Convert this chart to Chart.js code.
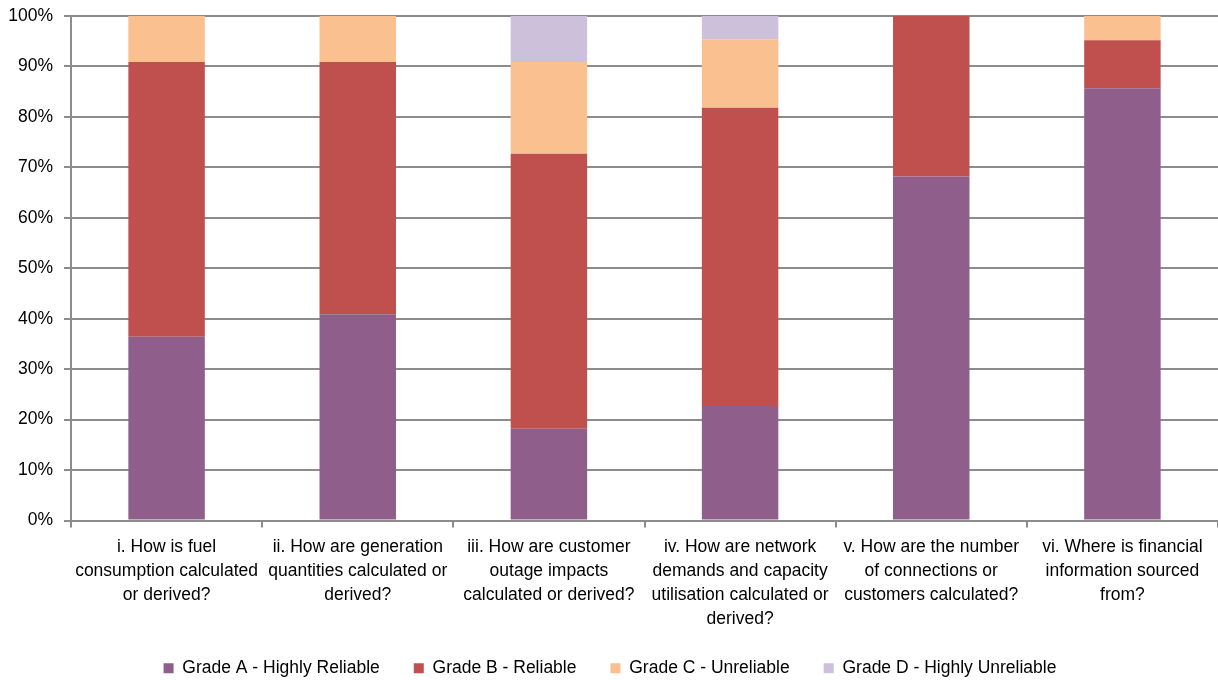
<!DOCTYPE html>
<html>
<head>
<meta charset="utf-8">
<script src="https://cdn.jsdelivr.net/npm/chart.js@4"></script>
<style>
  html, body { margin: 0; padding: 0; background: #fff; }
  #wrap { width: 1218px; height: 680px; }
</style>
</head>
<body>
<div id="wrap"><canvas id="chart" width="1218" height="680"></canvas></div>
<script>
// survey questions (x axis)
const categories = [
    ['i. How is fuel', 'consumption calculated', 'or derived?'],
    ['ii. How are generation', 'quantities calculated or', 'derived?'],
    ['iii. How are customer', 'outage impacts', 'calculated or derived?'],
    ['iv. How are network', 'demands and capacity', 'utilisation calculated or', 'derived?'],
    ['v. How are the number', 'of connections or', 'customers calculated?'],
    ['vi. Where is financial', 'information sourced', 'from?']
];

// share of responses, %
const gradeA = [36.4, 40.9, 18.2, 22.7, 68.2, 85.7];
const gradeB = [54.5, 50.0, 54.5, 59.1, 31.8, 9.5];
const gradeC = [9.1, 9.1, 18.2, 13.6, 0, 4.8];
const gradeD = [0, 0, 9.1, 4.6, 0, 0];

const yTicks = [0, 10, 20, 30, 40, 50, 60, 70, 80, 90, 100];

const fam = 'Liberation Sans, Arial, sans-serif';

// x labels are clipped to the axis box, so let them run a bit lower
const unclipX = {
    id: 'unclipX',
    afterLayout(chart) { chart.scales.x.bottom += 20; }
};

new Chart(document.getElementById('chart'), {
    type: 'bar',
    data: {
        labels: categories,
        datasets: [
            { label: 'Grade A - Highly Reliable', data: gradeA, backgroundColor: '#8F5E8B', stack: 's' },
            { label: 'Grade B - Reliable', data: gradeB, backgroundColor: '#C0504D', stack: 's' },
            { label: 'Grade C - Unreliable', data: gradeC, backgroundColor: '#FAC090', stack: 's' },
            { label: 'Grade D - Highly Unreliable', data: gradeD, backgroundColor: '#CCC0DA', stack: 's' }
        ]
    },
    plugins: [unclipX],
    options: {
        responsive: false,
        animation: false,
        datasets: { bar: { categoryPercentage: 1, barPercentage: 0.4 } },
        layout: { padding: { top: 16, right: -2, left: 0, bottom: -7 } },
        plugins: {
            tooltip: { enabled: false },
            legend: {
                position: 'bottom',
                labels: {
                    color: '#000',
                    font: { family: fam, size: 17.5 },
                    boxWidth: 10,
                    boxHeight: 10,
                    padding: 34
                }
            }
        },
        scales: {
            x: {
                stacked: true,
                grid: { drawOnChartArea: false, drawTicks: true, tickLength: 7, color: '#8c8c8c', lineWidth: 2 },
                border: { color: '#8c8c8c', width: 2 },
                ticks: { color: '#000', font: { family: fam, size: 17.5, lineHeight: 1.37 }, maxRotation: 0, padding: 8 },
                afterFit: s => { s.height = 105; }
            },
            y: {
                stacked: true,
                min: 0,
                max: 100,
                afterBuildTicks: s => { s.ticks = yTicks.map(v => ({ value: v })); },
                grid: { color: '#8c8c8c', lineWidth: 2, tickLength: 7 },
                border: { color: '#8c8c8c', width: 2 },
                ticks: { color: '#000', font: { family: fam, size: 17.5 }, padding: 11, callback: v => v + '%' },
                afterFit: s => { s.width = 71; s.paddingTop = 0; s.paddingBottom = 0; }
            }
        }
    }
});
</script>
</body>
</html>
